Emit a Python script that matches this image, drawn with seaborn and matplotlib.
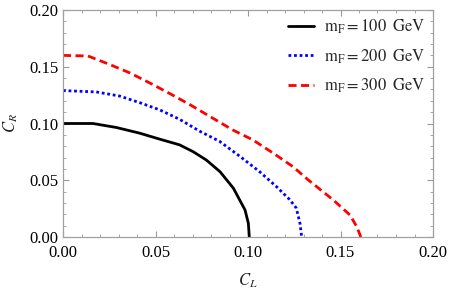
import numpy as np
import pandas as pd
import matplotlib
matplotlib.use("Agg")
import matplotlib.pyplot as plt
import seaborn as sns
from matplotlib.ticker import MultipleLocator

# data
cl_100 = [0.0, 0.0162, 0.0288, 0.0414, 0.0523, 0.063, 0.0703, 0.0775, 0.0849, 0.0921, 0.0984, 0.1002, 0.1007]
cr_100 = [0.100, 0.100, 0.0965, 0.0915, 0.0862, 0.0812, 0.0752, 0.0678, 0.0575, 0.043, 0.0238, 0.012, 0.0]

cl_200 = [0.0, 0.018, 0.0306, 0.0414, 0.0523, 0.063, 0.0739, 0.0847, 0.0955, 0.1063, 0.1153, 0.1225, 0.1261, 0.1281, 0.129]
cr_200 = [0.129, 0.1278, 0.1242, 0.1184, 0.112, 0.1037, 0.0932, 0.0842, 0.0712, 0.0575, 0.0445, 0.033, 0.0255, 0.012, 0.0]

cl_300 = [0.0, 0.0135, 0.0252, 0.036, 0.0468, 0.0577, 0.0685, 0.0793, 0.0919, 0.1027, 0.1135, 0.1243, 0.1324, 0.1461, 0.1551, 0.1588, 0.161]
cr_300 = [0.160, 0.1595, 0.152, 0.1447, 0.1358, 0.1264, 0.1167, 0.1063, 0.0942, 0.0855, 0.074, 0.062, 0.0505, 0.0326, 0.0194, 0.0091, 0.0]

labels = [r"$\mathrm{m_F = 100\;\;GeV}$",
          r"$\mathrm{m_F = 200\;\;GeV}$",
          r"$\mathrm{m_F = 300\;\;GeV}$"]
colors = ["black", "blue", "red"]
x_ticks = [0.00, 0.05, 0.10, 0.15, 0.20]
y_ticks = [0.00, 0.05, 0.10, 0.15, 0.20]

sns.set_theme(style="ticks")
plt.rcParams["font.family"] = ["Liberation Serif", "DejaVu Serif"]
plt.rcParams["mathtext.fontset"] = "stix"

fig = plt.figure(figsize=(4.5, 2.9), dpi=100)
ax = fig.add_axes([63/450, 53/290, 370/450, 227/290])

series = [(cl_100, cr_100), (cl_200, cr_200), (cl_300, cr_300)]
styles = [dict(linestyle="-"), dict(linestyle=(0, (1.0, 1.0))), dict(linestyle=(0, (2.9, 1.6)))]
for (xs, ys), lab, col, st in zip(series, labels, colors, styles):
    df = pd.DataFrame({"CL": xs, "CR": ys})
    sns.lineplot(data=df, x="CL", y="CR", sort=False, estimator=None, ax=ax,
                 color=col, linewidth=2.0, label=lab, dash_capstyle="butt", **st)

ax.set_xlim(0, 0.2)
ax.set_ylim(0, 0.2)
ax.set_xticks(x_ticks)
ax.set_yticks(y_ticks)
ax.set_xticklabels([f"{v:.2f}" for v in x_ticks])
ax.set_yticklabels([f"{v:.2f}" for v in y_ticks])
ax.xaxis.set_minor_locator(MultipleLocator(0.01))
ax.yaxis.set_minor_locator(MultipleLocator(0.01))
ax.tick_params(which="both", direction="in", top=True, right=True, color="#999999",
               labelsize=12, labelcolor="black")
ax.tick_params(axis="x", which="major", length=4, width=0.8, pad=5.5)
ax.tick_params(axis="y", which="major", length=4, width=0.8, pad=3)
ax.tick_params(which="minor", length=2, width=0.6)
for sp in ax.spines.values():
    sp.set_color("#a0a0a0")
    sp.set_linewidth(0.9)

ax.set_xlabel(r"$C_{L}$", fontsize=12, labelpad=8)
ax.set_ylabel(r"$C_{R}$", fontsize=12, labelpad=7)

leg = ax.legend(loc="upper right", bbox_to_anchor=(1.0, 1.0), frameon=False,
                fontsize=12, handlelength=1.6, handletextpad=0.6, labelspacing=0.68,
                borderaxespad=0.05)

fig.savefig("out.png", dpi=100)
